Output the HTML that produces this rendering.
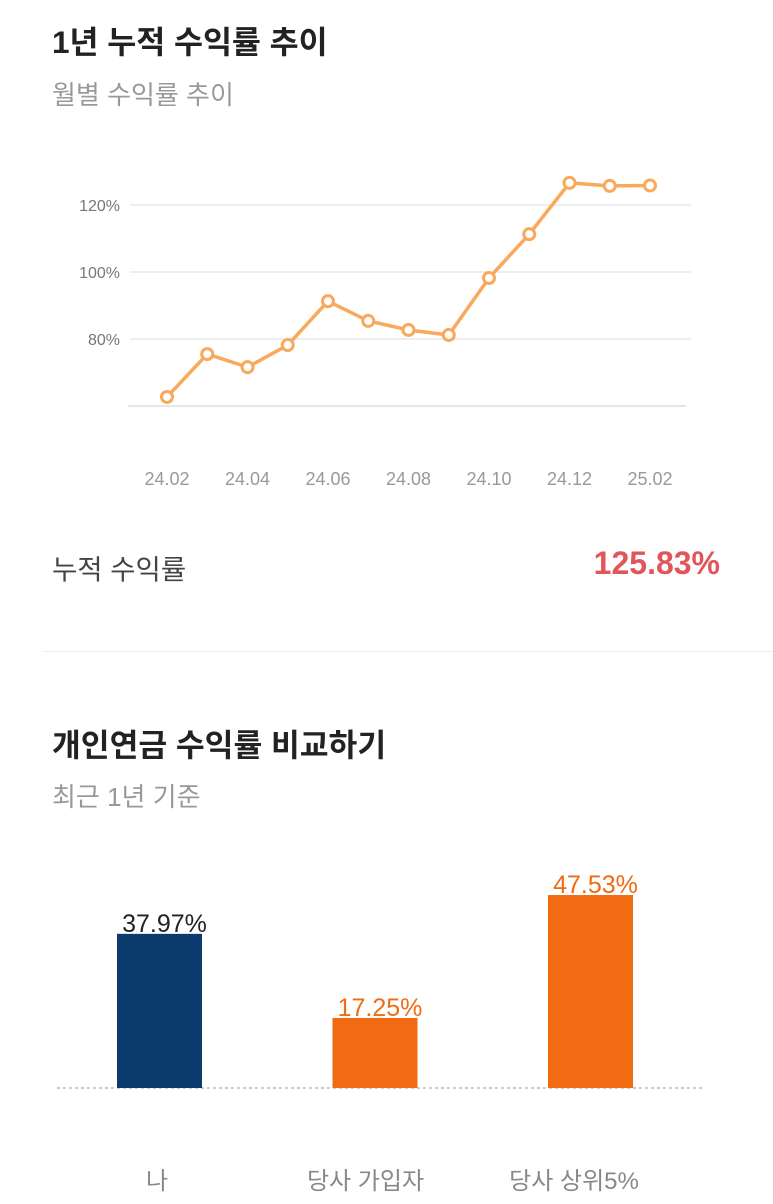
<!DOCTYPE html>
<html><head><meta charset="utf-8">
<style>
body{margin:0;width:773px;height:1204px;background:#fff;font-family:"Liberation Sans","Noto Sans CJK KR",sans-serif;position:relative;overflow:hidden}
.t{position:absolute;white-space:nowrap}
</style></head><body>
<div class="t" style="left:52px;top:17px;font-size:31.5px;font-weight:bold;color:#222">1년 누적 수익률 추이</div>
<div class="t" style="left:52px;top:75px;font-size:26px;color:#999">월별 수익률 추이</div>
<svg id="line" width="773" height="520" style="position:absolute;left:0;top:0"></svg>
<div class="t" style="left:52px;top:547px;font-size:27.5px;color:#444">누적 수익률</div>
<div class="t" style="right:53px;top:545px;font-size:32px;font-weight:bold;color:#e0565b">125.83%</div>
<div style="position:absolute;left:43px;right:0;top:651px;height:1px;background:#eee"></div>
<div class="t" style="left:52px;top:721px;font-size:31.3px;font-weight:bold;color:#222">개인연금 수익률 비교하기</div>
<div class="t" style="left:52px;top:777px;font-size:26px;color:#999">최근 1년 기준</div>
<svg id="bar" width="773" height="1204" style="position:absolute;left:0;top:0"></svg>
<script>
const months=["24.02","24.03","24.04","24.05","24.06","24.07","24.08","24.09","24.10","24.11","24.12","25.01","25.02"];
const returns=[62.7,75.5,71.6,78.2,91.3,85.4,82.7,81.2,98.2,111.3,126.6,125.7,125.83];
const yTicks=[80,100,120];
const NS="http://www.w3.org/2000/svg";
function mk(svg,tag,a){const e=document.createElementNS(NS,tag);for(const k in a)e.setAttribute(k,a[k]);svg.appendChild(e);return e;}
const L=document.getElementById('line');
const xs=i=>167+i*40.25, ys=v=>406-(v-60)*3.35;
yTicks.forEach(t=>{const g=mk(L,'line',{x1:130,x2:691,y1:ys(t),y2:ys(t),stroke:'#ddd'});

const tx=mk(L,'text',{x:120,y:ys(t)+6,'text-anchor':'end','font-size':16,fill:'#777','font-family':'Liberation Sans'});tx.textContent=t+'%';
});
const ax=mk(L,'line',{x1:128,x2:686,y1:406,y2:406,stroke:'#ccc'});

months.forEach((m,i)=>{if(i%2)return;const tx=mk(L,'text',{x:xs(i),y:485,'text-anchor':'middle','font-size':18,fill:'#999','font-family':'Liberation Sans'});tx.textContent=m;
});
const pl=mk(L,'polyline',{points:returns.map((v,i)=>xs(i)+','+ys(v)).join(' '),fill:'none',stroke:'#f9a85c','stroke-width':3.5,'stroke-linejoin':'round'});

returns.forEach((v,i)=>{const c=mk(L,'circle',{cx:xs(i),cy:ys(v),r:5.5,fill:'#fff',stroke:'#f9a85c','stroke-width':3});
});

const barCats=["나","당사 가입자","당사 상위5%"];
const barVals=[37.97,17.25,47.53];
const barColors=["#0b3a6e","#f26a12","#f26a12"];
const B=document.getElementById('bar');
const base=1088,sc=4.06;
const bl=mk(B,'line',{x1:57,x2:705,y1:base,y2:base,stroke:'#999','stroke-dasharray':'3,3'});

barVals.forEach((v,i)=>{const cx=159.5+i*215.5,h=v*sc;
const r=mk(B,'rect',{x:cx-42.5,y:base-h,width:85,height:h,fill:barColors[i]});

const tx=mk(B,'text',{x:cx+5,y:base-h-2,'text-anchor':'middle','font-size':25,fill:i?'#f26a12':'#222','font-family':'Liberation Sans'});tx.textContent=v.toFixed(2)+'%';

const lb=mk(B,'text',{x:157+i*208.5,y:1189,'text-anchor':'middle','font-size':24,fill:'#888','font-family':'Liberation Sans, Noto Sans CJK KR, sans-serif'});lb.textContent=barCats[i];
});
</script>
</body></html>
